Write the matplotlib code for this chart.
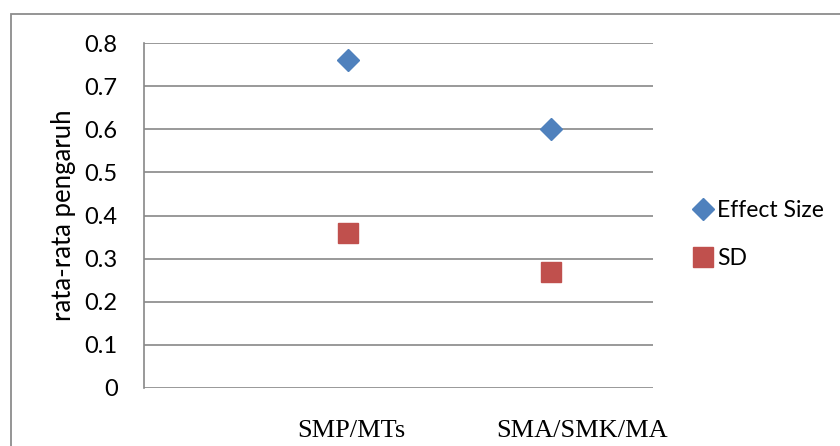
import matplotlib.pyplot as plt
from matplotlib.patches import Rectangle

# data
categories = ["SMP/MTs", "SMA/SMK/MA"]
cat_x = [1, 2]
effect_size = [0.76, 0.60]
sd = [0.36, 0.27]
y_ticks = [0, 0.1, 0.2, 0.3, 0.4, 0.5, 0.6, 0.7, 0.8]

BLUE = "#4F81BD"
RED = "#C0504D"
GRID = "#888888"

fig = plt.figure(figsize=(8.4, 4.46), dpi=100)
ax = fig.add_axes([144 / 840, 1 - 388 / 446, (653 - 144) / 840, (388 - 43) / 446])

# outer chart border (runs off the right and bottom edge)
fig.patches.append(Rectangle((11 / 840, -0.05), 1.0, 0.9686 + 0.05,
                             transform=fig.transFigure, fill=False,
                             edgecolor="#8c8c8c", linewidth=1.3))

ax.plot(cat_x, effect_size, linestyle="none", marker="D", markersize=11,
        color=BLUE, label="Effect Size")
ax.plot(cat_x, sd, linestyle="none", marker="s", markersize=14.5,
        color=RED, label="SD")

ax.set_xlim(0, 2.5)
ax.set_ylim(0, 0.8)
ax.set_yticks(y_ticks)
ax.set_yticklabels(["0" if v == 0 else "%.1f" % v for v in y_ticks],
                   fontsize=17, family="Lato")
ax.tick_params(axis="y", length=0, pad=19)
ax.set_xticks([])
ax.yaxis.grid(True, color=GRID, linewidth=1.2)
ax.set_axisbelow(True)
for side in ["top", "right", "bottom"]:
    ax.spines[side].set_visible(False)
ax.spines["left"].set_color(GRID)
ax.spines["left"].set_linewidth(1.2)

ax.set_ylabel("rata-rata pengaruh", fontsize=18.5, family="Lato", labelpad=6)

# category labels sit below the plot, in Times-like serif
label_x = [1.02, 2.15]
for x, name in zip(label_x, categories):
    ax.text(x, -0.1, name, ha="center", va="center", fontsize=19,
            family="Liberation Serif")

ax.legend(loc="center left", bbox_to_anchor=(0.807, 0.474),
          bbox_transform=fig.transFigure, frameon=False,
          prop={"family": "Lato", "size": 16.5}, handletextpad=0.0,
          labelspacing=1.2, handlelength=1.2, borderpad=0)

fig.savefig("out.png", dpi=100)
